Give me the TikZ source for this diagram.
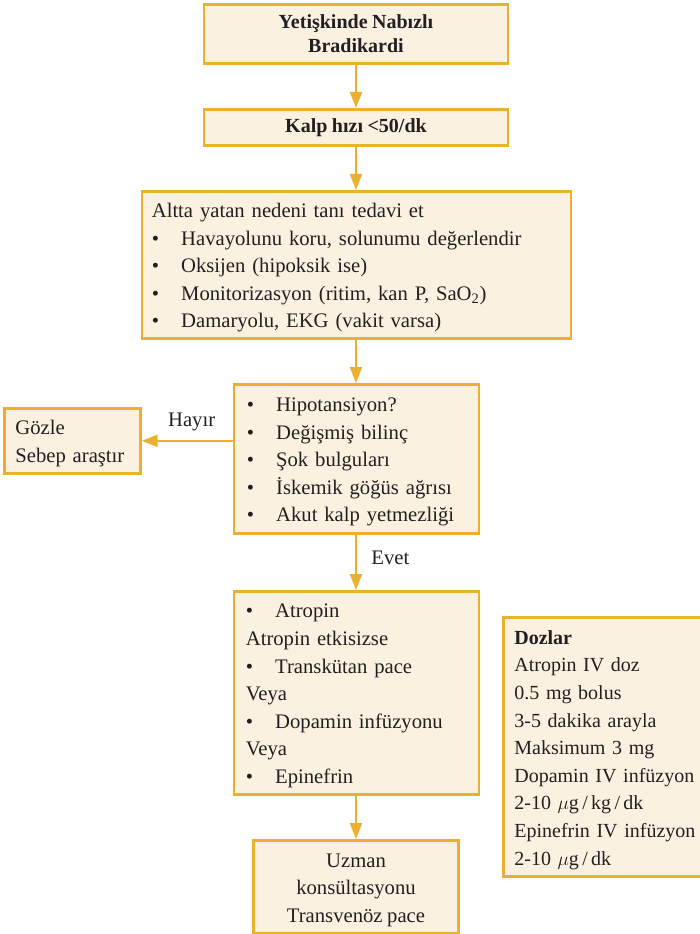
\documentclass[tikz,border=0pt]{standalone}
\usepackage{fontspec}
\setmainfont{Liberation Serif}[WordSpace=0.9]
\usetikzlibrary{arrows.meta,positioning}
\definecolor{flowline}{HTML}{EBB02F}
\definecolor{flowfill}{HTML}{FBF1E1}
\definecolor{ink}{HTML}{231F20}
\newcommand{\itm}[1]{\makebox[22pt][l]{\textbullet}#1}
\newcommand{\padtop}{\rule{0pt}{15pt}}

\begin{document}
\begin{tikzpicture}[
    x=0.75pt,y=-0.75pt,
    every node/.style={text=ink,font=\fontsize{15.5pt}{20.7pt}\selectfont},
    box/.style={rectangle,draw=flowline,fill=flowfill,line width=2pt,inner ysep=2pt},
    title/.style={box,align=center,font=\fontsize{15pt}{18pt}\selectfont\bfseries},
    arrow/.style={draw=flowline,line width=1.5pt,-{Triangle[length=12pt,width=9pt]}}
  ]
    \useasboundingbox (0,0) rectangle (699,934);

    % Baslik
    \node[title,anchor=north,minimum width=228pt,minimum height=44.25pt] (start) at (356,3) {Yetişkinde Nabızlı\\Bradikardi};
    \node[title,anchor=north,minimum width=228pt,minimum height=27pt] (rate) at (356,108) {Kalp hızı <50/dk};

    % Ilk degerlendirme
    \node[box,anchor=north west,inner xsep=7.5pt,text width=306.75pt,minimum height=110.25pt,align=left] (cause) at (140.5,190)
      {\padtop Altta yatan nedeni tanı tedavi et\\
       \itm{Havayolunu koru, solunumu değerlendir}\\
       \itm{Oksijen (hipoksik ise)}\\
       \itm{Monitorizasyon (ritim, kan P, SaO\textsubscript{2})}\\
       \itm{Damaryolu, EKG (vakit varsa)}};

    % Bulgular
    \node[box,anchor=north west,inner xsep=9.75pt,text width=164.25pt,minimum height=111.75pt,align=left] (signs) at (232.5,383)
      {\padtop\itm{Hipotansiyon?}\\
       \itm{Değişmiş bilinç}\\
       \itm{Şok bulguları}\\
       \itm{İskemik göğüs ağrısı}\\
       \itm{Akut kalp yetmezliği}};
    \node[box,anchor=north west,inner xsep=8.25pt,text width=85.5pt,minimum height=48.75pt,align=left] (observe) at (3,407)
      {\padtop Gözle\\Sebep araştır};

    % Tedavi
    \node[box,anchor=north west,inner xsep=9pt,text width=165.75pt,minimum height=152.25pt,align=left] (treat) at (232.5,590)
      {\padtop\itm{Atropin}\\
       Atropin etkisizse\\
       \itm{Transkütan pace}\\
       Veya\\
       \itm{Dopamin infüzyonu}\\
       Veya\\
       \itm{Epinefrin}};
    \node[box,anchor=north,minimum width=153.75pt,minimum height=69.75pt,align=center] (expert) at (356,839)
      {\padtop Uzman\\konsültasyonu\\Transvenöz pace};

    % Dozlar
    \node[box,anchor=north west,inner xsep=8.25pt,text width=141pt,minimum height=194.25pt,align=left,
          font=\fontsize{15pt}{20.7pt}\selectfont] (doses) at (502,616)
      {\padtop\textbf{Dozlar}\\
       Atropin IV doz\\
       0.5 mg bolus\\
       3-5 dakika arayla\\
       Maksimum 3 mg\\
       Dopamin IV infüzyon\\
       2-10 $\mu$g\,/\,kg\,/\,dk\\
       Epinefrin IV infüzyon\\
       2-10 $\mu$g\,/\,dk};

    % Oklar
    \draw[arrow] (start.south) -- (start.south |- rate.north);
    \draw[arrow] (rate.south) -- (rate.south |- cause.north);
    \draw[arrow] (rate.south |- cause.south) -- (rate.south |- signs.north);
    \draw[arrow] (signs.west |- observe.east) -- node[above=3pt,pos=0.45] {Hayır} (observe.east);
    \draw[arrow] (rate.south |- signs.south) -- node[right=7.5pt,pos=0.41] {Evet} (rate.south |- treat.north);
    \draw[arrow] (rate.south |- treat.south) -- (expert.north);

\end{tikzpicture}
\end{document}
